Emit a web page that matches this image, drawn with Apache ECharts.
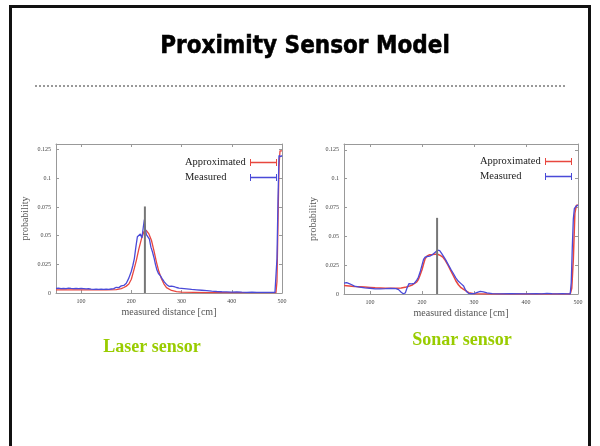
<!DOCTYPE html>
<html>
<head>
<meta charset="utf-8">
<script src="https://cdn.jsdelivr.net/npm/echarts@6/dist/echarts.min.js"></script>
<style>html,body{margin:0;padding:0;background:#fff;}#c{width:600px;height:446px;}</style>
</head>
<body>
<div id="c"></div>
<script>
// ---- data ----
const titleText = 'Proximity Sensor Model';
const panelLabels = ['Laser sensor', 'Sonar sensor'];
const seriesNames = ['Approximated', 'Measured'];
const xTickValues = [100, 200, 300, 400, 500];
const yTickValues = [0, 0.025, 0.05, 0.075, 0.1, 0.125];
const yTickLabels = ['0', '0.025', '0.05', '0.075', '0.1', '0.125'];
const xAxisTitle = 'measured distance [cm]';
const yAxisTitle = 'probability';

const laserApproxX = [50,100,150,170,180,185,190,195,200,205,210,215,220,225,230,235,240,245,250,255,260,265,270,280,290,300,350,400,450,488,490,492,494,496,498,500];
const laserApproxY = [0.0027,0.0027,0.0027,0.0030,0.0038,0.0048,0.0060,0.0078,0.0120,0.0200,0.0285,0.0385,0.0470,0.0535,0.0545,0.0515,0.0460,0.0370,0.0270,0.0185,0.0125,0.0078,0.0047,0.0022,0.0012,0.0007,0.0004,0.0003,0.0003,0.0003,0.0100,0.0600,0.1100,0.1240,0.1240,0.1240];

const laserMeasX = [50,55,60,65,70,75,80,85,90,95,100,105,110,115,120,125,130,135,140,145,150,155,160,165,170,175,180,185,190,195,200,203,206,209,212,215,218,221,224,226,228,230,233,236,239,242,245,248,251,254,258,262,266,270,275,280,285,290,295,300,310,320,330,340,350,360,370,380,390,400,410,420,430,440,450,460,470,480,486,488,490,492,494,496,498,500];
const laserMeasY = [0.0040,0.0042,0.0038,0.0041,0.0039,0.0043,0.0040,0.0038,0.0041,0.0039,0.0040,0.0038,0.0036,0.0037,0.0034,0.0032,0.0034,0.0031,0.0033,0.0032,0.0034,0.0031,0.0035,0.0038,0.0050,0.0047,0.0062,0.0066,0.0085,0.0130,0.0190,0.0240,0.0300,0.0400,0.0490,0.0500,0.0515,0.0480,0.0580,0.0640,0.0560,0.0510,0.0500,0.0470,0.0400,0.0360,0.0310,0.0250,0.0200,0.0170,0.0150,0.0120,0.0095,0.0075,0.0058,0.0060,0.0055,0.0048,0.0042,0.0040,0.0036,0.0031,0.0028,0.0024,0.0020,0.0016,0.0013,0.0011,0.0010,0.0008,0.0009,0.0007,0.0006,0.0007,0.0005,0.0006,0.0005,0.0005,0.0006,0.0020,0.0300,0.0800,0.1200,0.1210,0.1190,0.1200];

const sonarApproxX = [50,60,70,80,90,100,110,120,130,140,150,160,170,180,190,193,196,200,203,206,210,215,220,225,230,235,240,245,250,255,260,265,270,275,280,290,300,320,350,400,450,485,488,491,494,497,500];
const sonarApproxY = [0.0074,0.0070,0.0066,0.0063,0.0060,0.0057,0.0054,0.0052,0.0050,0.0050,0.0050,0.0052,0.0060,0.0075,0.0105,0.0125,0.0160,0.0210,0.0260,0.0305,0.0330,0.0340,0.0342,0.0345,0.0345,0.0335,0.0320,0.0290,0.0250,0.0205,0.0160,0.0115,0.0080,0.0055,0.0040,0.0012,0.0003,0.0001,0.0000,0.0000,0.0000,0.0000,0.0050,0.0300,0.0700,0.0770,0.0770];

const sonarMeasX = [50,55,60,65,70,80,90,100,110,120,130,140,150,155,160,164,168,171,175,180,185,190,193,197,200,203,206,210,215,220,225,230,234,238,241,245,251,256,260,265,270,275,280,283,286,290,295,300,305,312,318,325,335,350,370,400,420,430,440,450,460,470,480,485,487,489,491,493,496,500];
const sonarMeasY = [0.0095,0.0098,0.0090,0.0080,0.0068,0.0060,0.0053,0.0050,0.0044,0.0045,0.0046,0.0048,0.0046,0.0038,0.0015,0.0002,0.0010,0.0050,0.0090,0.0088,0.0092,0.0120,0.0145,0.0200,0.0250,0.0300,0.0320,0.0325,0.0328,0.0340,0.0360,0.0380,0.0375,0.0350,0.0335,0.0300,0.0250,0.0210,0.0180,0.0140,0.0110,0.0090,0.0070,0.0040,0.0020,0.0005,0.0002,0.0003,0.0012,0.0022,0.0018,0.0010,0.0003,0.0001,0.0002,0.0001,0.0003,0.0001,0.0006,0.0002,0.0001,0.0003,0.0001,0.0000,0.0100,0.0400,0.0650,0.0740,0.0760,0.0770];

const laserMarker = [227, 0.0755];
const sonarMarker = [229, 0.066];

// ---- build ----
const zip = (xs, ys) => xs.map((x, i) => [x, ys[i]]);
const red = '#e8473f', blue = '#4a4ad8', gray = '#777777';
const serif = 'Liberation Serif';

const grids = [
  { left: 56, top: 144, width: 226, height: 149 },
  { left: 344, top: 144, width: 234, height: 150 }
];

function xAxes(gi) {
  const base = {
    gridIndex: gi, type: 'value', min: 50, max: 500,
    splitLine: { show: false },
    axisLine: { show: true, onZero: false, lineStyle: { color: '#999', width: 1 } },
    axisTick: { show: true, inside: true, length: 3, customValues: xTickValues, lineStyle: { color: '#999' } }
  };
  return [
    Object.assign({}, base, {
      position: 'bottom',
      axisLabel: { show: true, customValues: xTickValues, fontSize: 6, fontFamily: serif, color: '#444', margin: 5 },
      name: xAxisTitle, nameLocation: 'middle', nameGap: 14,
      nameTextStyle: { fontSize: 10, fontFamily: serif, color: '#555' }
    }),
    Object.assign({}, base, { position: 'top', axisLabel: { show: false } })
  ];
}
function yAxes(gi, gap) {
  const base = {
    gridIndex: gi, type: 'value', min: 0, max: 0.13,
    splitLine: { show: false },
    axisLine: { show: true, onZero: false, lineStyle: { color: '#999', width: 1 } },
    axisTick: { show: true, inside: true, length: 3, customValues: yTickValues, lineStyle: { color: '#999' } }
  };
  return [
    Object.assign({}, base, {
      position: 'left',
      axisLabel: {
        show: true, customValues: yTickValues, fontSize: 6, fontFamily: serif, color: '#444', margin: 5,
        formatter: v => yTickLabels[Math.round(v / 0.025)]
      },
      name: yAxisTitle, nameLocation: 'middle', nameGap: gap, nameRotate: 90,
      nameTextStyle: { fontSize: 10, fontFamily: serif, color: '#555' }
    }),
    Object.assign({}, base, { position: 'right', axisLabel: { show: false } })
  ];
}

const xA = xAxes(0).concat(xAxes(1));
const yA = yAxes(0, 26).concat(yAxes(1, 26));

function lineSeries(name, data, xi, yi, color, w) {
  return {
    name: name, type: 'line', data: data, xAxisIndex: xi, yAxisIndex: yi,
    showSymbol: false, symbol: 'none', smooth: false, silent: true,
    lineStyle: { color: color, width: w }, itemStyle: { color: color }, animation: false
  };
}

const series = [
  lineSeries(seriesNames[0], zip(laserApproxX, laserApproxY), 0, 0, red, 1.3),
  lineSeries(seriesNames[1], zip(laserMeasX, laserMeasY), 0, 0, blue, 1.3),
  lineSeries('marker', [[laserMarker[0], 0], laserMarker], 0, 0, gray, 2),
  lineSeries(seriesNames[0], zip(sonarApproxX, sonarApproxY), 2, 2, red, 1.5),
  lineSeries(seriesNames[1], zip(sonarMeasX, sonarMeasY), 2, 2, blue, 1.3),
  lineSeries('marker', [[sonarMarker[0], 0], sonarMarker], 2, 2, gray, 2)
];

const legendIcon = 'path://M0,0h1v7h-1z M0,2.7h27v1.6h-27z M26,0h1v7h-1z';
function legend(left, top) {
  return {
    data: [
      { name: seriesNames[0], itemStyle: { color: red } },
      { name: seriesNames[1], itemStyle: { color: blue } }
    ],
    left: left, top: top, orient: 'vertical', align: 'right',
    itemWidth: 27, itemHeight: 7, itemGap: 4, icon: legendIcon, selectedMode: false,
    formatter: n => '{t|' + n + '}',
    textStyle: {
      fontSize: 10.5, fontFamily: serif, color: '#222',
      rich: { t: { width: 60, align: 'left', fontSize: 10.5, fontFamily: serif, color: '#222' } }
    }
  };
}

const chart = echarts.init(document.getElementById('c'), null, { renderer: 'canvas' });
chart.setOption({
  backgroundColor: '#ffffff',
  animation: false,
  grid: grids,
  xAxis: xA,
  yAxis: yA,
  legend: [legend(180, 152), legend(475, 151)],
  series: series,
  graphic: [
    { type: 'rect', shape: { x: 10.5, y: 6.5, width: 579, height: 460 }, style: { fill: 'none', stroke: '#111', lineWidth: 3 }, silent: true },
    { type: 'text', x: 305, y: 47, style: { text: titleText, font: 'bold 24px "DejaVu Sans Condensed"', fill: '#000', stroke: '#000', lineWidth: 0.5, align: 'center', verticalAlign: 'middle' } },
    { type: 'line', shape: { x1: 35, y1: 86, x2: 566, y2: 86 }, style: { stroke: '#999', lineWidth: 2, lineDash: [2, 2] } },
    { type: 'text', x: 152, y: 347, style: { text: panelLabels[0], font: 'bold 18px "Liberation Serif"', fill: '#99cc00', align: 'center', verticalAlign: 'middle' } },
    { type: 'text', x: 462, y: 340, style: { text: panelLabels[1], font: 'bold 18px "Liberation Serif"', fill: '#99cc00', align: 'center', verticalAlign: 'middle' } }
  ]
});
</script>
</body>
</html>
